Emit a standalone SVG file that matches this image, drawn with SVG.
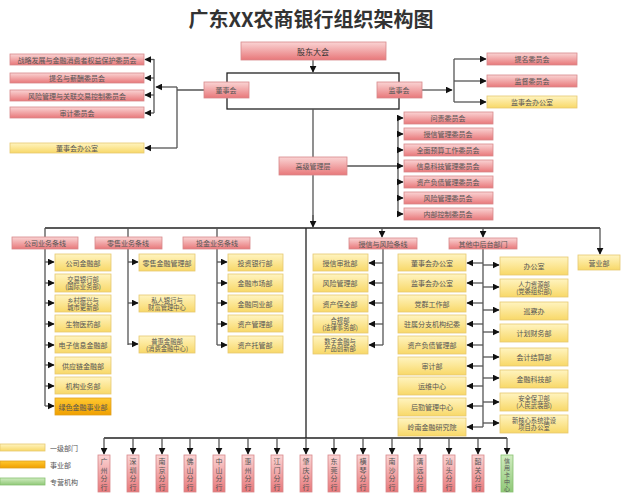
<svg xmlns="http://www.w3.org/2000/svg" width="623" height="493" viewBox="0 0 623 493">
<defs>
<linearGradient id="gr" x1="0" y1="0" x2="0" y2="1"><stop offset="0" stop-color="#fad4d4"/><stop offset="1" stop-color="#e8787a"/></linearGradient>
<linearGradient id="gy" x1="0" y1="0" x2="0" y2="1"><stop offset="0" stop-color="#fff4c0"/><stop offset="1" stop-color="#f8d868"/></linearGradient>
<linearGradient id="go" x1="0" y1="0" x2="0" y2="1"><stop offset="0" stop-color="#ffc830"/><stop offset="1" stop-color="#f0a000"/></linearGradient>
<linearGradient id="gg" x1="0" y1="0" x2="0" y2="1"><stop offset="0" stop-color="#d0ecc0"/><stop offset="1" stop-color="#90c878"/></linearGradient>
<marker id="a" viewBox="0 0 10 10" refX="9" refY="5" markerWidth="7" markerHeight="7" markerUnits="userSpaceOnUse" orient="auto"><path d="M0,0L10,5L0,10z" fill="#111"/></marker>
</defs>
<style>
.r{fill:url(#gr);stroke:#d8888a;stroke-width:0.8}
.y{fill:url(#gy);stroke:#e6c870;stroke-width:0.8}
.o{fill:url(#go);stroke:#e0a020;stroke-width:0.8}
.g{fill:url(#gg);stroke:#88c070;stroke-width:0.8}
text{font-family:"Noto Sans CJK SC","Liberation Sans",sans-serif;font-size:7px;fill:#555;text-anchor:middle;dominant-baseline:central}
.s{font-size:6.3px}
.t{font-size:20px;font-weight:bold;fill:#333}
.m{font-size:8px;fill:#333}
.l{text-anchor:start}
.v{font-size:7px}
.w{font-size:6px}
#conn path{stroke:#555;stroke-width:1.3;fill:none}
.ar{marker-end:url(#a)}
</style>
<text class="t" x="311" y="18">广东XX农商银行组织架构图</text>
<g id="conn">
<path d="M313,60V72" class="ar"/>
<rect x="227" y="73" width="172" height="36" fill="none" stroke="#222" stroke-width="1.3"/>
<path d="M204,90H177M177,87V148"/>
<path d="M177,87H156" class="ar"/>
<path d="M177,148H145" class="ar"/>
<path d="M154,59V113"/>
<path d="M154,59.5H145" class="ar"/><path d="M154,78H145" class="ar"/><path d="M154,95H145" class="ar"/><path d="M154,113H145" class="ar"/>
<path d="M422,90H452" class="ar"/>
<path d="M454,59V102"/>
<path d="M454,59H486" class="ar"/><path d="M454,81H486" class="ar"/><path d="M454,102H486" class="ar"/>
<path d="M313,109V157M313,175V226" /><path d="M313,215V227" class="ar"/>
<path d="M347,166H398M398,118V214"/>
<path d="M398,118H403" class="ar"/><path d="M398,134H403" class="ar"/><path d="M398,150H403" class="ar"/><path d="M398,166H403" class="ar"/><path d="M398,182H403" class="ar"/><path d="M398,198H403" class="ar"/><path d="M398,214H403" class="ar"/>
<path d="M45,228H600" style="stroke:#222"/>
<path d="M45,228V406M128,228V345M217,228V345"/>
<path d="M45,262H54" class="ar"/><path d="M45,283H54" class="ar"/><path d="M45,303H54" class="ar"/><path d="M45,324H54" class="ar"/><path d="M45,345H54" class="ar"/><path d="M45,365H54" class="ar"/><path d="M45,386H54" class="ar"/><path d="M45,406H54" class="ar"/>
<path d="M128,262H138" class="ar"/><path d="M128,303H138" class="ar"/><path d="M128,344H138" class="ar"/>
<path d="M217,262H227" class="ar"/><path d="M217,283H227" class="ar"/><path d="M217,303H227" class="ar"/><path d="M217,324H227" class="ar"/><path d="M217,345H227" class="ar"/>
<path d="M382,228V237" class="ar"/><path d="M483,228V237" class="ar"/><path d="M600,228V254" class="ar"/>
<path d="M383,249V345"/>
<path d="M383,263H369" class="ar"/><path d="M383,283H369" class="ar"/><path d="M383,303H369" class="ar"/><path d="M383,324H369" class="ar"/><path d="M383,345H369" class="ar"/>
<path d="M483,249V427"/>
<path d="M483,263H467" class="ar"/><path d="M483,283H467" class="ar"/><path d="M483,303H467" class="ar"/><path d="M483,324H467" class="ar"/><path d="M483,345H467" class="ar"/><path d="M483,366H467" class="ar"/><path d="M483,386H467" class="ar"/><path d="M483,406H467" class="ar"/><path d="M483,427H467" class="ar"/>
<path d="M483,265H499" class="ar"/><path d="M483,287H499" class="ar"/><path d="M483,310H499" class="ar"/><path d="M483,332H499" class="ar"/><path d="M483,357H499" class="ar"/><path d="M483,378H499" class="ar"/><path d="M483,402H499" class="ar"/><path d="M483,423H499" class="ar"/>
<path d="M306,228V438M104,438H507" style="stroke:#222"/>
<path d="M104,438V454" class="ar"/><path d="M133,438V454" class="ar"/><path d="M162,438V454" class="ar"/><path d="M190,438V454" class="ar"/><path d="M219,438V454" class="ar"/><path d="M248,438V454" class="ar"/><path d="M277,438V454" class="ar"/><path d="M306,438V454" class="ar"/><path d="M334,438V454" class="ar"/><path d="M363,438V454" class="ar"/><path d="M392,438V454" class="ar"/><path d="M420,438V454" class="ar"/><path d="M449,438V454" class="ar"/><path d="M478,438V454" class="ar"/><path d="M507,438V454" class="ar"/>
</g>
<g id="gdh"><rect class="r" x="241" y="42" width="145" height="18"/><text class="m" x="313" y="51">股东大会</text></g>
<g id="dsh"><rect class="r" x="204" y="82" width="45" height="16"/><text x="226" y="90">董事会</text></g>
<g id="jsh"><rect class="r" x="377" y="82" width="45" height="16"/><text x="399" y="90">监事会</text></g>
<g id="gjgl"><rect class="r" x="279" y="157" width="68" height="18"/><text x="313" y="166">高级管理层</text></g>
<g id="lc1"><rect class="r" x="10" y="54" width="134" height="11"/><text x="77" y="59.5">战略发展与金融消费者权益保护委员会</text></g>
<g id="lc2"><rect class="r" x="10" y="73" width="134" height="10"/><text x="77" y="78">提名与薪酬委员会</text></g>
<g id="lc3"><rect class="r" x="10" y="90" width="134" height="11"/><text x="77" y="95.5">风险管理与关联交易控制委员会</text></g>
<g id="lc4"><rect class="r" x="10" y="107" width="134" height="11"/><text x="77" y="112.5">审计委员会</text></g>
<g id="lc5"><rect class="y" x="10" y="143" width="134" height="10"/><text x="77" y="148">董事会办公室</text></g>
<g id="rc1"><rect class="r" x="487" y="53" width="90" height="12"/><text x="532" y="59">提名委员会</text></g>
<g id="rc2"><rect class="r" x="487" y="75" width="90" height="12"/><text x="532" y="81">监督委员会</text></g>
<g id="rc3"><rect class="y" x="487" y="96" width="90" height="12"/><text x="532" y="102">监事会办公室</text></g>
<g id="sc1"><rect class="r" x="404" y="112" width="89" height="12"/><text x="448" y="118">问责委员会</text></g>
<g id="sc2"><rect class="r" x="404" y="128" width="89" height="12"/><text x="448" y="134">授信管理委员会</text></g>
<g id="sc3"><rect class="r" x="404" y="144" width="89" height="12"/><text x="448" y="150">全面预算工作委员会</text></g>
<g id="sc4"><rect class="r" x="404" y="160" width="89" height="12"/><text x="448" y="166">信息科技管理委员会</text></g>
<g id="sc5"><rect class="r" x="404" y="176" width="89" height="12"/><text x="448" y="182">资产负债管理委员会</text></g>
<g id="sc6"><rect class="r" x="404" y="192" width="89" height="12"/><text x="448" y="198">风险管理委员会</text></g>
<g id="sc7"><rect class="r" x="404" y="208" width="89" height="12"/><text x="448" y="214">内部控制委员会</text></g>
<g id="h1"><rect class="r" x="12" y="237" width="66" height="12"/><text x="45" y="243">公司业务条线</text></g>
<g id="h2"><rect class="r" x="95" y="237" width="67" height="12"/><text x="128" y="243">零售业务条线</text></g>
<g id="h3"><rect class="r" x="183" y="237" width="67" height="12"/><text x="217" y="243">投金业务条线</text></g>
<g id="h4"><rect class="r" x="349" y="238" width="68" height="11"/><text x="383" y="243.5">授信与风险条线</text></g>
<g id="h5"><rect class="r" x="449" y="238" width="68" height="11"/><text x="483" y="243.5">其他中后台部门</text></g>
<g id="a1"><rect class="y" x="55" y="254" width="56" height="17"/><text x="83" y="262.5">公司金融部</text></g>
<g id="a2"><rect class="y" x="55" y="274" width="56" height="18"/><text class="s" x="83" y="279.5">交易银行部</text><text class="s" x="83" y="286.5">(国际业务部)</text></g>
<g id="a3"><rect class="y" x="55" y="295" width="56" height="17"/><text class="s" x="83" y="300">乡村振兴与</text><text class="s" x="83" y="307">城市更新部</text></g>
<g id="a4"><rect class="y" x="55" y="315" width="56" height="17"/><text x="83" y="323.5">生物医药部</text></g>
<g id="a5"><rect class="y" x="55" y="336" width="56" height="17"/><text x="83" y="344.5">电子信息金融部</text></g>
<g id="a6"><rect class="y" x="55" y="357" width="56" height="17"/><text x="83" y="365.5">供应链金融部</text></g>
<g id="a7"><rect class="y" x="55" y="377" width="56" height="17"/><text x="83" y="385.5">机构业务部</text></g>
<g id="a8"><rect class="o" x="55" y="398" width="56" height="17"/><text x="83" y="406.5">绿色金融事业部</text></g>
<g id="b1"><rect class="y" x="139" y="254" width="56" height="17"/><text x="167" y="262.5">零售金融管理部</text></g>
<g id="b2"><rect class="y" x="139" y="295" width="56" height="17"/><text class="s" x="167" y="300">私人银行与</text><text class="s" x="167" y="307">财富管理中心</text></g>
<g id="b3"><rect class="y" x="139" y="336" width="56" height="17"/><text class="s" x="167" y="341">普惠金融部</text><text class="s" x="167" y="348">(消费金融中心)</text></g>
<g id="c1"><rect class="y" x="228" y="254" width="55" height="17"/><text x="255" y="262.5">投资银行部</text></g>
<g id="c2"><rect class="y" x="228" y="274" width="55" height="18"/><text x="255" y="283">金融市场部</text></g>
<g id="c3"><rect class="y" x="228" y="295" width="55" height="17"/><text x="255" y="303.5">金融同业部</text></g>
<g id="c4"><rect class="y" x="228" y="315" width="55" height="17"/><text x="255" y="323.5">资产管理部</text></g>
<g id="c5"><rect class="y" x="228" y="336" width="55" height="17"/><text x="255" y="344.5">资产托管部</text></g>
<g id="d1"><rect class="y" x="313" y="254" width="55" height="17"/><text x="340" y="262.5">授信审批部</text></g>
<g id="d2"><rect class="y" x="313" y="274" width="55" height="18"/><text x="340" y="283">风险管理部</text></g>
<g id="d3"><rect class="y" x="313" y="295" width="55" height="17"/><text x="340" y="303.5">资产保全部</text></g>
<g id="d4"><rect class="y" x="313" y="315" width="55" height="18"/><text class="s" x="340" y="320.5">合规部</text><text class="s" x="340" y="327.5">(法律事务部)</text></g>
<g id="d5"><rect class="y" x="313" y="336" width="55" height="18"/><text class="s" x="340" y="341.5">数字金融与</text><text class="s" x="340" y="348.5">产品创新部</text></g>
<g id="e1"><rect class="y" x="398" y="254" width="68" height="17"/><text x="432" y="262.5">董事会办公室</text></g>
<g id="e2"><rect class="y" x="398" y="274" width="68" height="18"/><text x="432" y="283">监事会办公室</text></g>
<g id="e3"><rect class="y" x="398" y="295" width="68" height="17"/><text x="432" y="303.5">党群工作部</text></g>
<g id="e4"><rect class="y" x="398" y="315" width="68" height="18"/><text x="432" y="324">驻属分支机构纪委</text></g>
<g id="e5"><rect class="y" x="398" y="336" width="68" height="18"/><text x="432" y="345">资产负债管理部</text></g>
<g id="e6"><rect class="y" x="398" y="357" width="68" height="18"/><text x="432" y="366">审计部</text></g>
<g id="e7"><rect class="y" x="398" y="377" width="68" height="18"/><text x="432" y="386">运维中心</text></g>
<g id="e8"><rect class="y" x="398" y="398" width="68" height="18"/><text x="432" y="407">后勤管理中心</text></g>
<g id="e9"><rect class="y" x="398" y="418" width="68" height="18"/><text x="432" y="427">岭南金融研究院</text></g>
<g id="f1"><rect class="y" x="500" y="257" width="68" height="18"/><text x="534" y="266">办公室</text></g>
<g id="f2"><rect class="y" x="500" y="279" width="68" height="18"/><text class="s" x="534" y="284.5">人力资源部</text><text class="s" x="534" y="291.5">(党委组织部)</text></g>
<g id="f3"><rect class="y" x="500" y="302" width="68" height="18"/><text x="534" y="311">巡察办</text></g>
<g id="f4"><rect class="y" x="500" y="324" width="68" height="18"/><text x="534" y="333">计划财务部</text></g>
<g id="f5"><rect class="y" x="500" y="348" width="68" height="18"/><text x="534" y="357">会计结算部</text></g>
<g id="f6"><rect class="y" x="500" y="370" width="68" height="18"/><text x="534" y="379">金融科技部</text></g>
<g id="f7"><rect class="y" x="500" y="393" width="68" height="18"/><text class="s" x="534" y="398.5">安全保卫部</text><text class="s" x="534" y="405.5">(人民武装部)</text></g>
<g id="f8"><rect class="y" x="500" y="415" width="68" height="18"/><text class="s" x="534" y="420.5">新核心系统建设</text><text class="s" x="534" y="427.5">项目办公室</text></g>
<g id="yyb"><rect class="y" x="578" y="255" width="42" height="15"/><text x="599" y="262.5">营业部</text></g>
<g id="br">
<rect class="r" x="98" y="455" width="12" height="37"/><text class="v" x="104" y="461"><tspan x="104">广</tspan><tspan x="104" dy="8.5">州</tspan><tspan x="104" dy="8.5">分</tspan><tspan x="104" dy="8.5">行</tspan></text>
<rect class="r" x="127" y="455" width="12" height="37"/><text class="v" x="133" y="461"><tspan x="133">深</tspan><tspan x="133" dy="8.5">圳</tspan><tspan x="133" dy="8.5">分</tspan><tspan x="133" dy="8.5">行</tspan></text>
<rect class="r" x="156" y="455" width="12" height="37"/><text class="v" x="162" y="461"><tspan x="162">南</tspan><tspan x="162" dy="8.5">京</tspan><tspan x="162" dy="8.5">分</tspan><tspan x="162" dy="8.5">行</tspan></text>
<rect class="r" x="184" y="455" width="12" height="37"/><text class="v" x="190" y="461"><tspan x="190">佛</tspan><tspan x="190" dy="8.5">山</tspan><tspan x="190" dy="8.5">分</tspan><tspan x="190" dy="8.5">行</tspan></text>
<rect class="r" x="213" y="455" width="12" height="37"/><text class="v" x="219" y="461"><tspan x="219">中</tspan><tspan x="219" dy="8.5">山</tspan><tspan x="219" dy="8.5">分</tspan><tspan x="219" dy="8.5">行</tspan></text>
<rect class="r" x="242" y="455" width="12" height="37"/><text class="v" x="248" y="461"><tspan x="248">惠</tspan><tspan x="248" dy="8.5">州</tspan><tspan x="248" dy="8.5">分</tspan><tspan x="248" dy="8.5">行</tspan></text>
<rect class="r" x="271" y="455" width="12" height="37"/><text class="v" x="277" y="461"><tspan x="277">江</tspan><tspan x="277" dy="8.5">门</tspan><tspan x="277" dy="8.5">分</tspan><tspan x="277" dy="8.5">行</tspan></text>
<rect class="r" x="300" y="455" width="12" height="37"/><text class="v" x="306" y="461"><tspan x="306">肇</tspan><tspan x="306" dy="8.5">庆</tspan><tspan x="306" dy="8.5">分</tspan><tspan x="306" dy="8.5">行</tspan></text>
<rect class="r" x="328" y="455" width="12" height="37"/><text class="v" x="334" y="461"><tspan x="334">东</tspan><tspan x="334" dy="8.5">莞</tspan><tspan x="334" dy="8.5">分</tspan><tspan x="334" dy="8.5">行</tspan></text>
<rect class="r" x="357" y="455" width="12" height="37"/><text class="v" x="363" y="461"><tspan x="363">横</tspan><tspan x="363" dy="8.5">琴</tspan><tspan x="363" dy="8.5">分</tspan><tspan x="363" dy="8.5">行</tspan></text>
<rect class="r" x="386" y="455" width="12" height="37"/><text class="v" x="392" y="461"><tspan x="392">南</tspan><tspan x="392" dy="8.5">沙</tspan><tspan x="392" dy="8.5">分</tspan><tspan x="392" dy="8.5">行</tspan></text>
<rect class="r" x="414" y="455" width="12" height="37"/><text class="v" x="420" y="461"><tspan x="420">清</tspan><tspan x="420" dy="8.5">远</tspan><tspan x="420" dy="8.5">分</tspan><tspan x="420" dy="8.5">行</tspan></text>
<rect class="r" x="443" y="455" width="12" height="37"/><text class="v" x="449" y="461"><tspan x="449">汕</tspan><tspan x="449" dy="8.5">头</tspan><tspan x="449" dy="8.5">分</tspan><tspan x="449" dy="8.5">行</tspan></text>
<rect class="r" x="472" y="455" width="12" height="37"/><text class="v" x="478" y="461"><tspan x="478">韶</tspan><tspan x="478" dy="8.5">关</tspan><tspan x="478" dy="8.5">分</tspan><tspan x="478" dy="8.5">行</tspan></text>
<rect class="g" x="501" y="455" width="12" height="37"/><text class="w" x="507" y="459.5"><tspan x="507">信</tspan><tspan x="507" dy="7">用</tspan><tspan x="507" dy="7">卡</tspan><tspan x="507" dy="7">中</tspan><tspan x="507" dy="7">心</tspan></text>
</g>
<g id="legend">
<rect class="y" x="0" y="444" width="45" height="7"/><text class="l" x="50" y="447.5">一级部门</text>
<rect class="o" x="0" y="461" width="45" height="7"/><text class="l" x="50" y="464.5">事业部</text>
<rect class="g" x="0" y="478" width="45" height="7"/><text class="l" x="50" y="481.5">专营机构</text>
</g>
</svg>
